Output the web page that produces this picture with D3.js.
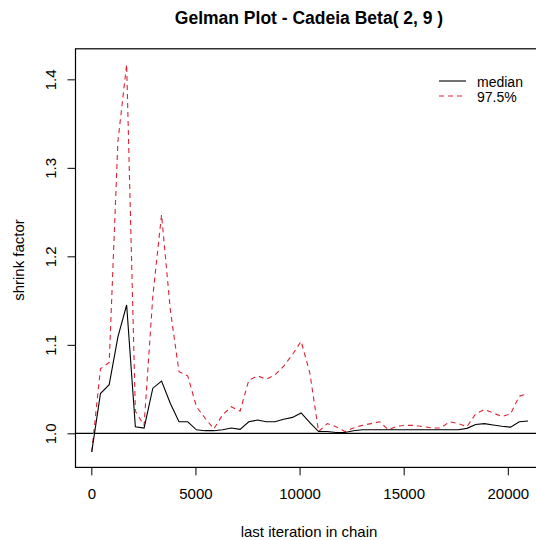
<!DOCTYPE html>
<html>
<head>
<meta charset="utf-8">
<script src="https://cdn.jsdelivr.net/npm/d3@7"></script>
<style>
  body { margin: 0; background: #fff; }
  svg text { font-family: "Liberation Sans", Arial, sans-serif; fill: #000; }
</style>
</head>
<body>
<svg id="chart" width="536" height="540"></svg>
<script>
// last iteration of each bin
const iterations = [20, 439, 858, 1277, 1696, 2115, 2534, 2953, 3372, 3791,
  4210, 4629, 5048, 5467, 5886, 6305, 6724, 7143, 7562, 7981,
  8400, 8819, 9238, 9657, 10076, 10495, 10914, 11333, 11752, 12171,
  12590, 13009, 13428, 13847, 14266, 14685, 15104, 15523, 15942, 16361,
  16780, 17199, 17618, 18037, 18456, 18875, 19294, 19713, 20132, 20551, 20970];

const median = [0.979, 1.045, 1.055, 1.109, 1.145, 1.0075, 1.006, 1.051, 1.059, 1.034,
  1.013, 1.013, 1.004, 1.003, 1.003, 1.004, 1.006, 1.0045, 1.013, 1.015,
  1.013, 1.013, 1.016, 1.018, 1.023, 1.012, 1.002, 1.002, 1.001, 1.001,
  1.003, 1.004, 1.004, 1.004, 1.004, 1.004, 1.004, 1.004, 1.004, 1.004,
  1.004, 1.004, 1.004, 1.0056, 1.010, 1.011, 1.0095, 1.008, 1.007, 1.013, 1.014];

const upper = [0.979, 1.073, 1.080, 1.330, 1.417, 1.025, 1.009, 1.155, 1.247, 1.140,
  1.0696, 1.065, 1.030, 1.017, 1.005, 1.021, 1.030, 1.025, 1.060, 1.065,
  1.061, 1.066, 1.076, 1.089, 1.104, 1.068, 1.002, 1.011, 1.0075, 1.002,
  1.006, 1.009, 1.011, 1.013, 1.004, 1.008, 1.009, 1.009, 1.0075, 1.006,
  1.006, 1.013, 1.011, 1.0075, 1.022, 1.027, 1.023, 1.019, 1.022, 1.042, 1.045];

const xTicks = [0, 5000, 10000, 15000, 20000];
const yTicks = [1.0, 1.1, 1.2, 1.3, 1.4];
const legendLabels = ["median", "97.5%"];

const svg = d3.select("#chart");
const plotLeft = 75.5, plotRight = 545.6, plotTop = 48.8, plotBottom = 467.4;
const red = "#dc2432";

const x = d3.scaleLinear().domain([-760, 21815]).range([plotLeft, plotRight]);
const y = d3.scaleLinear().domain([0.9615, 1.4345]).range([plotBottom, plotTop]);

svg.append("text")
  .attr("x", 309)
  .attr("y", 18)
  .attr("dy", "0.35em")
  .attr("text-anchor", "middle")
  .style("font-size", "17.5px")
  .style("font-weight", "bold")
  .text("Gelman Plot - Cadeia Beta( 2, 9 )");

// x axis
const xAxis = svg.append("g")
  .attr("transform", `translate(0, ${plotBottom})`)
  .call(d3.axisBottom(x).tickValues(xTicks).tickSize(8).tickPadding(13).tickFormat(d3.format("d")));
xAxis.select(".domain").remove();
xAxis.selectAll("text").style("font-size", "15px");

// y axis, labels rotated like R
const yAxis = svg.append("g")
  .attr("transform", `translate(${plotLeft}, 0)`)
  .call(d3.axisLeft(y).tickValues(yTicks).tickSize(8).tickFormat(d3.format(".1f")));
yAxis.select(".domain").remove();
yAxis.selectAll("text")
  .attr("x", null)
  .attr("text-anchor", "middle")
  .attr("transform", "translate(-24.5, 0) rotate(-90)")
  .attr("dy", "0.35em")
  .style("font-size", "15px");

svg.append("text")
  .attr("transform", `translate(19, 260) rotate(-90)`)
  .attr("dy", "0.35em")
  .attr("text-anchor", "middle")
  .style("font-size", "15px")
  .text("shrink factor");

svg.append("text")
  .attr("x", 309)
  .attr("y", 532)
  .attr("dy", "0.35em")
  .attr("text-anchor", "middle")
  .style("font-size", "15px")
  .text("last iteration in chain");

// box
svg.append("rect")
  .attr("x", plotLeft).attr("y", plotTop)
  .attr("width", plotRight - plotLeft).attr("height", plotBottom - plotTop)
  .attr("fill", "none").attr("stroke", "#000").attr("stroke-width", 1.2);

// reference line at 1
svg.append("line")
  .attr("x1", plotLeft).attr("x2", plotRight)
  .attr("y1", y(1)).attr("y2", y(1))
  .attr("stroke", "#000").attr("stroke-width", 1.2);

const line = d3.line().x((d, i) => x(iterations[i])).y(d => y(d));

svg.append("path")
  .datum(upper)
  .attr("d", line)
  .attr("fill", "none")
  .attr("stroke", red)
  .attr("stroke-width", 1.1)
  .attr("stroke-dasharray", "5,4");

svg.append("path")
  .datum(median)
  .attr("d", line)
  .attr("fill", "none")
  .attr("stroke", "#000")
  .attr("stroke-width", 1.1);

// legend
const legend = svg.append("g");
const legendStyles = [{ color: "#000", dash: null }, { color: red, dash: "5,4" }];
legendLabels.forEach((lab, i) => {
  const ly = 81 + i * 15;
  legend.append("line")
    .attr("x1", 439).attr("x2", 466)
    .attr("y1", ly).attr("y2", ly)
    .attr("stroke", legendStyles[i].color)
    .attr("stroke-width", 1.1)
    .attr("stroke-dasharray", legendStyles[i].dash);
  legend.append("text")
    .attr("x", 477).attr("y", ly + 1)
    .attr("dy", "0.35em")
    .style("font-size", "14px")
    .text(lab);
});
</script>
</body>
</html>
